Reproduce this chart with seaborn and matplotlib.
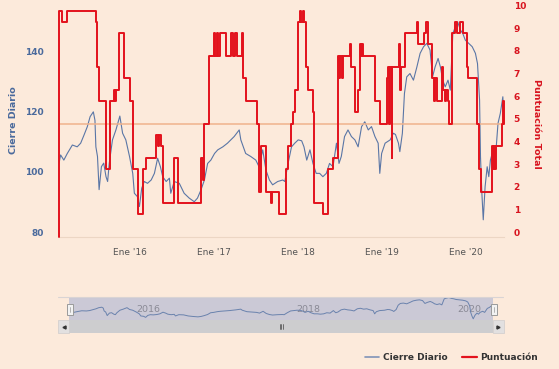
import pandas as pd
import matplotlib
matplotlib.use("Agg")
import matplotlib.pyplot as plt
import matplotlib.dates as mdates
import matplotlib.transforms as mtransforms
from matplotlib.lines import Line2D
from matplotlib.patches import Rectangle
import seaborn as sns

# daily close (roughly every two weeks)
close_dates = [
    "2015-03-01", "2015-03-08", "2015-03-22", "2015-04-06", "2015-04-28", "2015-05-19",
    "2015-06-03", "2015-06-17", "2015-07-02", "2015-07-14", "2015-07-28", "2015-08-04",
    "2015-08-08", "2015-08-15", "2015-08-22", "2015-09-01", "2015-09-11", "2015-09-21",
    "2015-09-28", "2015-10-05", "2015-10-19", "2015-11-03", "2015-11-20", "2015-12-02",
    "2015-12-16", "2016-01-01", "2016-01-15", "2016-01-22", "2016-02-04", "2016-02-13",
    "2016-02-23", "2016-03-05", "2016-03-19", "2016-04-04", "2016-04-18", "2016-05-02",
    "2016-05-14", "2016-05-24", "2016-06-08", "2016-06-22", "2016-06-28", "2016-07-13",
    "2016-08-04", "2016-08-25", "2016-09-16", "2016-10-08", "2016-10-22", "2016-11-06",
    "2016-11-21", "2016-12-05", "2016-12-19", "2017-01-04", "2017-01-18", "2017-02-09",
    "2017-03-01", "2017-03-30", "2017-04-21", "2017-04-28", "2017-05-19", "2017-06-10",
    "2017-07-02", "2017-07-16", "2017-08-01", "2017-08-15", "2017-08-30", "2017-09-13",
    "2017-10-05", "2017-10-27", "2017-11-05", "2017-11-19", "2017-12-04", "2017-12-18",
    "2018-01-02", "2018-01-17", "2018-01-27", "2018-02-08", "2018-02-22", "2018-03-07",
    "2018-03-21", "2018-04-05", "2018-04-19", "2018-05-04", "2018-05-18", "2018-06-02",
    "2018-06-17", "2018-06-28", "2018-07-08", "2018-07-22", "2018-08-06", "2018-08-21",
    "2018-09-05", "2018-09-19", "2018-10-04", "2018-10-18", "2018-11-02", "2018-11-16",
    "2018-12-01", "2018-12-15", "2018-12-22", "2018-12-30", "2019-01-14", "2019-02-05",
    "2019-02-19", "2019-02-28", "2019-03-13", "2019-03-19", "2019-03-30", "2019-04-08",
    "2019-04-18", "2019-05-02", "2019-05-17", "2019-06-01", "2019-06-15", "2019-06-30",
    "2019-07-14", "2019-07-28", "2019-08-08", "2019-08-19", "2019-09-01", "2019-09-11",
    "2019-09-21", "2019-10-02", "2019-10-14", "2019-10-24", "2019-11-04", "2019-11-15",
    "2019-11-25", "2019-12-07", "2019-12-17", "2019-12-28", "2020-01-12", "2020-01-27",
    "2020-02-10", "2020-02-19", "2020-02-28", "2020-03-03", "2020-03-09", "2020-03-15",
    "2020-03-23", "2020-04-01", "2020-04-08", "2020-04-15", "2020-04-27", "2020-05-06",
    "2020-05-18", "2020-05-28", "2020-06-08", "2020-06-13",
]
close_values = [
    104.4, 107.2, 105.5, 107.7, 110.5, 109.9,
    111.1, 113.7, 116.6, 119.9, 121.5, 118.7,
    109.9, 106.7, 95.7, 103.3, 104.5, 100.0,
    98.4, 104.4, 112.2, 115.5, 120.1, 114.4,
    112.2, 106.7, 101.1, 94.5, 93.4, 90.1,
    96.2, 98.4, 97.8, 98.9, 101.1, 106.1,
    103.3, 100.0, 98.4, 99.5, 94.5, 98.4,
    97.8, 94.5, 92.9, 91.7, 92.9, 95.6,
    98.9, 104.4, 105.5, 107.7, 108.9, 109.9,
    111.1, 113.3, 115.5, 112.2, 107.7, 106.7,
    105.5, 103.3, 108.9, 102.2, 98.9, 97.3,
    98.4, 98.9, 98.4, 104.4, 109.9, 111.1,
    112.2, 111.9, 109.9, 105.5, 108.9, 104.4,
    101.1, 101.1, 100.0, 101.1, 104.4, 103.3,
    111.1, 104.4, 106.7, 113.3, 115.5, 113.3,
    112.2, 109.9, 116.6, 118.2, 115.5, 116.6,
    113.3, 111.1, 101.1, 107.7, 111.1, 112.2,
    114.4, 114.0, 111.1, 108.3, 114.4, 127.6,
    133.1, 134.2, 132.0, 136.4, 140.9, 143.1,
    144.2, 142.0, 133.1, 136.4, 139.2, 136.4,
    132.0, 129.8, 132.0, 128.7, 147.5, 149.7,
    151.3, 148.6, 147.5, 145.3, 144.2, 143.1,
    140.9, 137.5, 125.4, 106.6, 94.5, 85.7,
    96.7, 103.3, 100.0, 105.5, 108.9, 105.5,
    117.7, 121.0, 126.5, 117.7,
]

# total score, value holds from each date to the next
score_dates = [
    "2015-03-01", "2015-03-02", "2015-03-15", "2015-04-06", "2015-08-08", "2015-08-15",
    "2015-08-22", "2015-09-21", "2015-10-07", "2015-10-25", "2015-11-01", "2015-11-05",
    "2015-11-15", "2015-12-10", "2016-01-05", "2016-01-15", "2016-02-06", "2016-03-01",
    "2016-03-12", "2016-04-25", "2016-05-04", "2016-05-09", "2016-05-16", "2016-05-24",
    "2016-07-14", "2016-07-29", "2016-11-07", "2016-11-14", "2016-11-21", "2016-12-12",
    "2017-01-01", "2017-01-07", "2017-01-14", "2017-01-20", "2017-01-27", "2017-02-22",
    "2017-03-18", "2017-03-27", "2017-04-04", "2017-04-13", "2017-05-01", "2017-05-09",
    "2017-05-22", "2017-07-09", "2017-07-16", "2017-07-23", "2017-08-15", "2017-09-04",
    "2017-09-11", "2017-10-12", "2017-11-10", "2017-11-19", "2017-12-03", "2017-12-10",
    "2017-12-17", "2018-01-02", "2018-01-09", "2018-01-16", "2018-01-22", "2018-01-27",
    "2018-02-04", "2018-02-13", "2018-03-06", "2018-03-13", "2018-04-18", "2018-05-10",
    "2018-06-01", "2018-06-23", "2018-06-28", "2018-07-04", "2018-07-09", "2018-07-15",
    "2018-08-13", "2018-08-21", "2018-09-04", "2018-09-18", "2018-09-26", "2018-10-02",
    "2018-10-07", "2018-10-10", "2018-12-01", "2018-12-22", "2019-01-21", "2019-01-27",
    "2019-02-02", "2019-02-06", "2019-02-11", "2019-02-15", "2019-03-14", "2019-03-18",
    "2019-03-22", "2019-04-10", "2019-06-01", "2019-06-05", "2019-06-30", "2019-07-09",
    "2019-07-21", "2019-08-04", "2019-08-13", "2019-08-20", "2019-08-27", "2019-09-17",
    "2019-09-24", "2019-10-01", "2019-10-07", "2019-10-14", "2019-10-19", "2019-11-01",
    "2019-11-13", "2019-11-22", "2019-12-04", "2019-12-19", "2020-01-04", "2020-01-09",
    "2020-02-17", "2020-02-27", "2020-03-07", "2020-04-22", "2020-04-27", "2020-05-01",
    "2020-05-05", "2020-05-11", "2020-06-05", "2020-06-09", "2020-06-13",
]
score_values = [
    0, 10, 9.5, 10, 9.5, 7.5,
    6, 3, 6, 6.5, 6, 6.5,
    9, 7, 6, 3, 1, 3,
    3.5, 4.5, 4, 4.5, 4, 1.5,
    3.5, 1.5, 3.5, 2.5, 5, 8,
    9, 8, 9, 8, 9, 8,
    9, 8, 9, 8, 9, 7,
    6, 5, 2, 4, 2, 1.5,
    2, 1, 3, 4, 5, 5.5,
    6.5, 9.5, 10, 9.5, 10, 9.5,
    7.5, 6.5, 5.5, 1.5, 1, 3,
    3.5, 8, 7, 8, 7, 8,
    8.5, 7.5, 5.5, 6.5, 8.5, 8,
    8.5, 8, 6, 5, 7, 7.5,
    5, 7.5, 3.5, 7.5, 8.5, 6.5,
    7.5, 9, 9.5, 8.5, 9, 9.5,
    8.5, 7, 6, 7, 6, 7.5,
    6.5, 6, 6.5, 6, 5, 9,
    9.5, 9, 9.5, 9, 7.5, 7,
    5, 3, 2, 4, 3, 4,
    3, 4, 5, 6, 5,
]

threshold = 5
left_ticks = [80, 100, 120, 140]
right_ticks = list(range(0, 11))
year_ticks = ["2016-01-01", "2017-01-01", "2018-01-01", "2019-01-01", "2020-01-01"]
nav_ticks = ["2016-01-01", "2018-01-01", "2020-01-01"]

bg = "#fceadb"
blue = "#5a76a6"
red = "#e3121c"
blue_txt = "#4a6a9c"
red_txt = "#d8141f"

sns.set_style("white", rc={"axes.facecolor": bg, "figure.facecolor": bg})
plt.rcParams["font.family"] = ["DejaVu Sans"]

close = pd.DataFrame({"fecha": pd.to_datetime(close_dates), "cierre": close_values})
score = pd.DataFrame({"fecha": pd.to_datetime(score_dates), "puntos": score_values})

W, H = 559, 369
fig = plt.figure(figsize=(W / 100, H / 100), dpi=100)


def box(x0, y0, x1, y1):
    # pixel box measured from the top-left corner -> figure rectangle
    return [x0 / W, 1 - y1 / H, (x1 - x0) / W, (y1 - y0) / H]


def pt(x, y):
    return x / W, 1 - y / H


# main chart
ax = fig.add_axes(box(59, 10.5, 504, 237))
ax2 = ax.twinx()
sns.lineplot(data=close, x="fecha", y="cierre", ax=ax, color=blue, linewidth=0.8)
ax2.axhline(threshold, color="#efb28c", linewidth=1.1, zorder=1)
sns.lineplot(data=score, x="fecha", y="puntos", ax=ax2, color=red, linewidth=1.4,
             drawstyle="steps-post", zorder=2)
for ln in ax2.get_lines():
    ln.set_clip_on(False)

xmin, xmax = close["fecha"].min(), close["fecha"].max()
ax.set_xlim(xmin, xmax)
ax.set_ylim(80, 155.1)
ax2.set_ylim(0, 10)
ax.set_xlabel("")
ax2.set_xlabel("")

for a in (ax, ax2):
    for s in a.spines.values():
        s.set_visible(False)
ax.spines["bottom"].set_visible(True)
ax.spines["bottom"].set_color("#ecd6c4")
ax.spines["bottom"].set_linewidth(0.8)

ax.set_xticks(pd.to_datetime(year_ticks))
ax.xaxis.set_major_formatter(mdates.DateFormatter("Ene '%y"))
ax.tick_params(axis="x", length=3, color="#ead4c2", pad=5, labelsize=6.5, labelcolor="#555555")

ax.set_yticks(left_ticks)
ax.tick_params(axis="y", length=0, pad=11, labelsize=6.5, labelcolor=blue_txt)
ax2.set_yticks(right_ticks)
ax2.tick_params(axis="y", length=0, pad=7, labelsize=6.5, labelcolor=red_txt)

up = mtransforms.ScaledTranslation(0, 0.05, fig.dpi_scale_trans)
for lab in ax.get_yticklabels() + ax2.get_yticklabels():
    lab.set_fontweight("bold")
    lab.set_transform(lab.get_transform() + up)

ax.set_ylabel("Cierre Diario", color=blue_txt, fontsize=6.8, fontweight="bold")
ax.yaxis.set_label_coords(-0.092, 0.515)
ax2.set_ylabel("Puntuación Total", color=red_txt, fontsize=6.8, fontweight="bold",
               rotation=270, va="center")
ax2.yaxis.set_label_coords(1.074, 0.5)

# navigator
nav = fig.add_axes(box(69, 297, 493, 320))
nav.set_facecolor("#cbc9d6")
sns.lineplot(data=close, x="fecha", y="cierre", ax=nav, color="#6a82ad", linewidth=0.7)
nav.set_xlim(xmin, xmax)
nav.set_ylim(82, 153)
nav.set_yticks([])
nav.set_xlabel("")
nav.set_ylabel("")
for s in nav.spines.values():
    s.set_visible(False)
nav.set_xticks(pd.to_datetime(nav_ticks))
nav.xaxis.set_major_formatter(mdates.DateFormatter("%Y"))
nav.tick_params(axis="x", length=0, pad=-11, labelsize=6.8, labelcolor="#8a8a96")
for lab in nav.get_xticklabels():
    lab.set_horizontalalignment("left")

# navigator outline, scrollbar and handles
fig.add_artist(Line2D([58 / W, 503 / W], [1 - 297 / H] * 2, color="#d9d4d4", lw=0.8))
fig.add_artist(Rectangle(pt(69, 333), 424 / W, 13 / H, transform=fig.transFigure,
                         facecolor="#cdcdcf", edgecolor="none"))
for bx in (58, 493):
    fig.add_artist(Rectangle(pt(bx, 333), 10.5 / W, 13 / H, transform=fig.transFigure,
                             facecolor="#e2e0e0", edgecolor="#cfcccc", lw=0.5))
fig.add_artist(Line2D([63.5 / W], [1 - 326.5 / H], marker="<", markersize=2.2,
                      color="#333333", linestyle="none"))
fig.add_artist(Line2D([498 / W], [1 - 326.5 / H], marker=">", markersize=2.2,
                      color="#333333", linestyle="none"))
for gx in (279.5, 281, 282.5):
    fig.add_artist(Line2D([gx / W] * 2, [1 - 324 / H, 1 - 329 / H], color="#444444", lw=0.5))
for hx in (66.5, 490.5):
    fig.add_artist(Rectangle(pt(hx, 315), 6 / W, 11 / H, transform=fig.transFigure,
                             facecolor="#f2f2f2", edgecolor="#9a9a9a", lw=0.7))
    fig.add_artist(Line2D([(hx + 3) / W] * 2, [1 - 307 / H, 1 - 312 / H], color="#9a9a9a", lw=0.5))

# legend
handles = [Line2D([], [], color="#8093b8", lw=1.2), Line2D([], [], color=red, lw=1.6)]
leg = fig.legend(handles, ["Cierre Diario", "Puntuación"], loc="center right",
                 bbox_to_anchor=(546 / W, 1 - 358 / H), ncol=2, frameon=False,
                 prop={"weight": "bold", "size": 6.5}, handlelength=1.6,
                 handletextpad=0.4, columnspacing=1.6)
for t in leg.get_texts():
    t.set_color("#333333")

fig.savefig("out.png", dpi=100, facecolor=bg)
